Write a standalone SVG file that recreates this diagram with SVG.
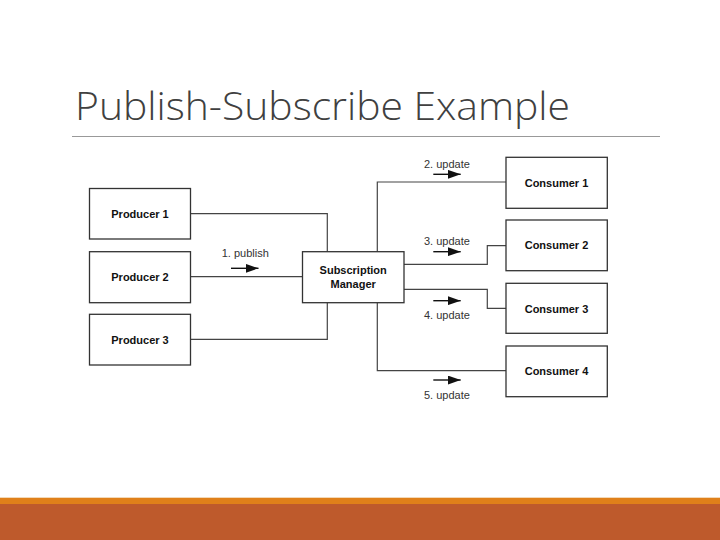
<svg xmlns="http://www.w3.org/2000/svg" width="720" height="540" viewBox="0 0 720 540">
<defs>
<style>
.box{fill:#fff;stroke:#333;stroke-width:1.3}
.nt{font-family:"Liberation Sans",Arial,sans-serif;font-weight:bold;font-size:11px;fill:#111;text-anchor:middle}
.lb{font-family:"Liberation Sans",Arial,sans-serif;font-size:11px;fill:#333}
.cn{fill:none;stroke:#444;stroke-width:1.2}
.ar{fill:none;stroke:#111;stroke-width:1.4}
</style>
<marker id="ah" viewBox="0 0 13 9" refX="13" refY="4.5" markerWidth="13" markerHeight="9" markerUnits="userSpaceOnUse" orient="auto">
<path d="M0,0 L13,4.5 L0,9 Z" fill="#111"/>
</marker>
</defs>
<rect width="720" height="540" fill="#fff"/>
<text x="75" y="119.5" font-family="'Open Sans','Noto Sans',sans-serif" font-weight="300" font-size="39" fill="#404040" textLength="495" lengthAdjust="spacingAndGlyphs">Publish-Subscribe Example</text>
<line x1="72" y1="136.5" x2="660" y2="136.5" stroke="#999" stroke-width="1"/>

<g id="connectors">
<path class="cn" d="M190,213.7 H327.3 V252"/>
<path class="cn" d="M190,276.7 H303"/>
<path class="cn" d="M190,339.3 H327.3 V302.5"/>
<path class="cn" d="M506,182 H377.3 V252"/>
<path class="cn" d="M377.3,302.5 V370.7 H506"/>
<path class="cn" d="M404,264.3 H487.3 V245.7 H506"/>
<path class="cn" d="M404,289.3 H487.3 V308.3 H506"/>
<line class="ar" x1="231" y1="268.3" x2="258.5" y2="268.3" marker-end="url(#ah)"/>
<line class="ar" x1="433.3" y1="174.3" x2="460.7" y2="174.3" marker-end="url(#ah)"/>
<line class="ar" x1="433.3" y1="251.7" x2="460.7" y2="251.7" marker-end="url(#ah)"/>
<line class="ar" x1="433.3" y1="300.7" x2="460.7" y2="300.7" marker-end="url(#ah)"/>
<line class="ar" x1="433.3" y1="380" x2="460.7" y2="380" marker-end="url(#ah)"/>
<text class="lb" x="221.7" y="256.7">1. publish</text>
<text class="lb" x="424" y="168.3">2. update</text>
<text class="lb" x="424" y="244.5">3. update</text>
<text class="lb" x="424" y="318.5">4. update</text>
<text class="lb" x="424" y="398.5">5. update</text>
</g>

<g id="producer1"><rect class="box" x="89.5" y="188.5" width="101" height="50.5"/><text class="nt" x="140" y="217.7">Producer 1</text></g>
<g id="producer2"><rect class="box" x="89.5" y="251.7" width="101" height="51"/><text class="nt" x="140" y="280.5">Producer 2</text></g>
<g id="producer3"><rect class="box" x="89.5" y="314.3" width="101" height="50.7"/><text class="nt" x="140" y="343.5">Producer 3</text></g>
<g id="manager"><rect class="box" x="302.5" y="251.7" width="101.5" height="51"/><text class="nt" x="353.2" y="273.5">Subscription</text><text class="nt" x="353.2" y="287.5">Manager</text></g>
<g id="consumer1"><rect class="box" x="506" y="157.3" width="101.3" height="51"/><text class="nt" x="556.5" y="186.7">Consumer 1</text></g>
<g id="consumer2"><rect class="box" x="506" y="220" width="101.3" height="50.7"/><text class="nt" x="556.5" y="249">Consumer 2</text></g>
<g id="consumer3"><rect class="box" x="506" y="283.3" width="101.3" height="50"/><text class="nt" x="556.5" y="312.5">Consumer 3</text></g>
<g id="consumer4"><rect class="box" x="506" y="346" width="101.3" height="50.7"/><text class="nt" x="556.5" y="375">Consumer 4</text></g>

<rect x="0" y="497" width="720" height="1" fill="#f3d9b8"/>
<rect x="0" y="498" width="720" height="6" fill="#E0801A"/>
<rect x="0" y="504" width="720" height="36" fill="#BE5A2C"/>
</svg>
